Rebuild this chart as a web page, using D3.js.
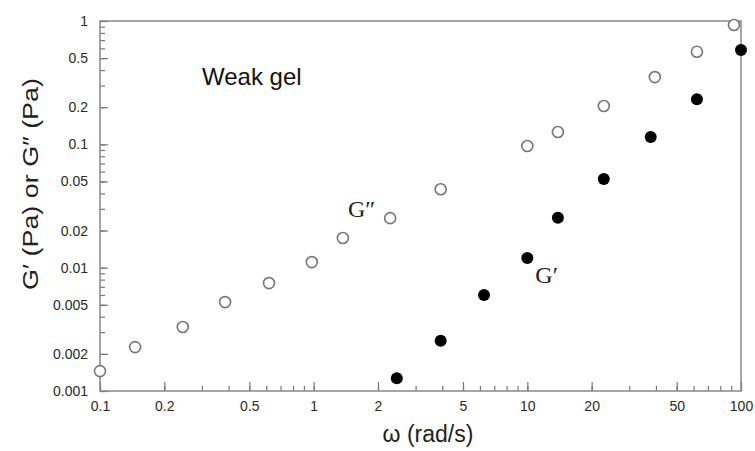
<!DOCTYPE html>
<html>
<head>
<meta charset="utf-8">
<script src="https://cdn.jsdelivr.net/npm/d3@7"></script>
<style>
  body { margin: 0; background: #fff; }
  svg { display: block; }
</style>
</head>
<body>
<div id="holder"></div>
<script>
// G'' (loss modulus), open circles
const omegaLoss = [0.1, 0.146, 0.244, 0.385, 0.618, 0.98, 1.37, 2.28, 3.93, 10, 13.9, 22.8, 39.5, 62.2, 92.7];
const lossModulus = [0.00145, 0.00227, 0.0033, 0.00526, 0.0075, 0.0111, 0.0174, 0.0252, 0.0432, 0.097, 0.126, 0.2045, 0.351, 0.564, 0.928];

// G' (storage modulus), filled circles
const omegaStorage = [2.45, 3.93, 6.27, 10, 13.9, 22.8, 37.8, 62.2, 100];
const storageModulus = [0.00127, 0.00255, 0.006, 0.012, 0.0254, 0.0523, 0.1146, 0.232, 0.582];

const xTicks = [0.1, 0.2, 0.5, 1, 2, 5, 10, 20, 50, 100];
const yTicks = [0.001, 0.002, 0.005, 0.01, 0.02, 0.05, 0.1, 0.2, 0.5, 1];

const width = 755;
const height = 451;
const margin = {top: 21, right: 14, bottom: 60, left: 100};
const innerW = width - margin.left - margin.right;
const innerH = height - margin.top - margin.bottom;

const svg = d3.select("#holder")
    .append("svg")
    .attr("width", width)
    .attr("height", height);

const g = svg.append("g")
    .attr("transform", `translate(${margin.left},${margin.top})`);

const xScale = d3.scaleLog().domain([0.1, 100]).range([0, innerW]);
const yScale = d3.scaleLog().domain([0.001, 1]).range([innerH, 0]);

// minor ticks 1..9 in each decade
const minor = (lo, hi) => {
    const out = [];
    for (let e = Math.log10(lo); e < Math.log10(hi); e++) {
        for (let m = 1; m <= 9; m++) out.push(m * Math.pow(10, e));
    }
    out.push(hi);
    return out;
};

const fmt = d => String(+d.toPrecision(3));

// x axis: minor ticks, then labelled ticks
g.append("g")
    .attr("class", "minor")
    .attr("transform", `translate(0,${innerH})`)
    .call(d3.axisBottom(xScale).tickValues(minor(0.1, 100)).tickSize(-5).tickFormat(""));
g.append("g")
    .attr("class", "major")
    .attr("transform", `translate(0,${innerH})`)
    .call(d3.axisBottom(xScale).tickValues(xTicks).tickSize(-9).tickPadding(10).tickFormat(fmt));

// y axis
g.append("g")
    .attr("class", "minor")
    .call(d3.axisLeft(yScale).tickValues(minor(0.001, 1)).tickSize(-5).tickFormat(""));
g.append("g")
    .attr("class", "major")
    .call(d3.axisLeft(yScale).tickValues(yTicks).tickSize(-8).tickPadding(12).tickFormat(fmt));

g.selectAll(".domain").remove();
g.selectAll(".tick line").attr("stroke", "#777").attr("stroke-width", 1.2);
g.selectAll(".major text")
    .attr("font-family", "Liberation Sans, Arial, sans-serif")
    .attr("font-size", 14)
    .attr("fill", "#2a2a2a");

// frame
g.append("rect")
    .attr("width", innerW)
    .attr("height", innerH)
    .attr("fill", "none")
    .attr("stroke", "#888")
    .attr("stroke-width", 1.5);

// G'' open circles
g.selectAll("circle.loss")
    .data(omegaLoss.map((w, i) => [w, lossModulus[i]]))
    .enter()
    .append("circle")
    .attr("class", "loss")
    .attr("cx", d => xScale(d[0]))
    .attr("cy", d => yScale(d[1]))
    .attr("r", 5.5)
    .attr("fill", "#fff")
    .attr("stroke", "#777")
    .attr("stroke-width", 1.6);

// G' filled circles
g.selectAll("circle.storage")
    .data(omegaStorage.map((w, i) => [w, storageModulus[i]]))
    .enter()
    .append("circle")
    .attr("class", "storage")
    .attr("cx", d => xScale(d[0]))
    .attr("cy", d => yScale(d[1]))
    .attr("r", 6)
    .attr("fill", "#000");

// labels
g.append("text")
    .attr("x", xScale(1.37) + 5)
    .attr("y", yScale(0.0252) - 1)
    .attr("font-family", "Liberation Serif, Times New Roman, serif")
    .attr("font-size", 24)
    .attr("fill", "#222")
    .text("G\u2033");

g.append("text")
    .attr("x", xScale(10) + 8)
    .attr("y", yScale(0.012) + 25)
    .attr("font-family", "Liberation Serif, Times New Roman, serif")
    .attr("font-size", 24)
    .attr("fill", "#222")
    .text("G\u2032");

g.append("text")
    .attr("x", 102)
    .attr("y", 64)
    .attr("font-family", "Liberation Sans, Arial, sans-serif")
    .attr("font-size", 24)
    .attr("fill", "#111")
    .text("Weak gel");

// axis titles
svg.append("text")
    .attr("x", 428)
    .attr("y", 442)
    .attr("text-anchor", "middle")
    .attr("font-family", "Liberation Sans, Arial, sans-serif")
    .attr("font-size", 23)
    .attr("fill", "#222")
    .text("\u03c9 (rad/s)");

svg.append("text")
    .attr("transform", "translate(38,184) rotate(-90)")
    .attr("text-anchor", "middle")
    .attr("font-family", "Liberation Sans, Arial, sans-serif")
    .attr("font-size", 22)
    .attr("textLength", 212)
    .attr("lengthAdjust", "spacingAndGlyphs")
    .attr("fill", "#222")
    .text("G\u2032 (Pa) or G\u2033 (Pa)");
</script>
</body>
</html>
